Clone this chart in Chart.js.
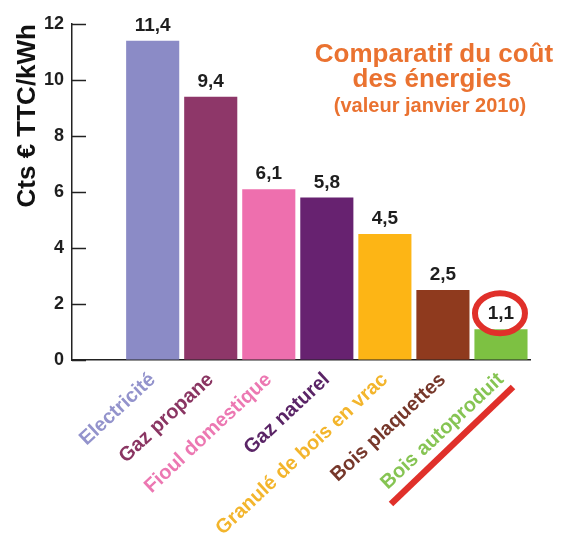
<!DOCTYPE html>
<html>
<head>
<meta charset="utf-8">
<script src="https://cdn.jsdelivr.net/npm/chart.js@4.4.1/dist/chart.umd.min.js"></script>
<style>
  html, body { margin: 0; padding: 0; background: #ffffff; }
  canvas { display: block; }
</style>
</head>
<body>
<canvas id="c" width="573" height="541"></canvas>
<script>
const categories = ['Electricité', 'Gaz propane', 'Fioul domestique', 'Gaz naturel', 'Granulé de bois en vrac', 'Bois plaquettes', 'Bois autoproduit'];
const values = [11.4, 9.4, 6.1, 5.8, 4.5, 2.5, 1.1];
const valueLabels = ['11,4', '9,4', '6,1', '5,8', '4,5', '2,5', '1,1'];
const barColors = ['#8B8BC6', '#8E3769', '#EE6FAE', '#672270', '#FDB515', '#8F3A1E', '#7DC142'];
const labelColors = ['#9393CC', '#8A3562', '#EC78B2', '#5A2466', '#F3B52C', '#76372A', '#86C453'];
const yTickValues = [0, 2, 4, 6, 8, 10, 12];
const titleLines = ['Comparatif du coût', 'des énergies', '(valeur janvier 2010)'];
const yTitle = 'Cts € TTC/kWh';
const highlightIndex = 6;

const FONT = "'Liberation Sans', Arial, Helvetica, sans-serif";

const extras = {
  id: 'extras',
  afterDatasetsDraw(chart) {
    const ctx = chart.ctx;
    const y = chart.scales.y;
    const x = chart.scales.x;
    const meta = chart.getDatasetMeta(0);
    ctx.save();
    // inward tick marks on y axis
    ctx.strokeStyle = '#222';
    ctx.lineWidth = 1.5;
    yTickValues.forEach(v => {
      const py = Math.round(y.getPixelForValue(v)) + 0.5;
      ctx.beginPath();
      ctx.moveTo(chart.chartArea.left, py);
      ctx.lineTo(chart.chartArea.left + 14, py);
      ctx.stroke();
    });
    // value labels
    ctx.fillStyle = '#1e1e1e';
    ctx.font = 'bold 19px ' + FONT;
    ctx.textAlign = 'center';
    ctx.textBaseline = 'alphabetic';
    meta.data.forEach((bar, i) => {
      ctx.fillText(valueLabels[i], bar.x, bar.y - 10);
    });
    // red circle around highlighted label
    const hb = meta.data[highlightIndex];
    ctx.strokeStyle = '#E0302A';
    ctx.lineWidth = 6;
    ctx.beginPath();
    ctx.ellipse(hb.x - 1, hb.y - 16, 25, 20, 0, 0, Math.PI * 2);
    ctx.stroke();
    // red underline of highlighted category label
    const tx = x.getPixelForValue(highlightIndex);
    const base = chart.chartArea.bottom;
    ctx.lineWidth = 6.5;
    ctx.beginPath();
    ctx.moveTo(tx - 110, base + 144);
    ctx.lineTo(tx + 12, base + 27);
    ctx.stroke();
    // title block
    ctx.fillStyle = '#EA7230';
    ctx.textAlign = 'center';
    ctx.font = 'bold 26px ' + FONT;
    ctx.fillText(titleLines[0], 434, 62);
    ctx.fillText(titleLines[1], 432, 87);
    ctx.font = 'bold 20px ' + FONT;
    ctx.fillText(titleLines[2], 430, 112);
    ctx.restore();
  }
};

new Chart(document.getElementById('c'), {
  type: 'bar',
  data: {
    datasets: [{
      data: values.map((v, i) => ({ x: i, y: v })),
      backgroundColor: barColors,
      borderWidth: 0,
      categoryPercentage: 1,
      barPercentage: 0.915
    }]
  },
  options: {
    responsive: false,
    animation: false,
    events: [],
    layout: { padding: { top: 24, right: 43, bottom: 0, left: 0 } },
    plugins: {
      legend: { display: false },
      tooltip: { enabled: false },
      title: { display: false }
    },
    scales: {
      x: {
        type: 'linear',
        position: 'bottom',
        bounds: 'data',
        offset: false,
        min: -1.39,
        max: 6.5,
        grid: { display: true, offset: false, drawOnChartArea: false, drawTicks: false, color: 'rgba(0,0,0,0)' },
        border: { display: true, color: '#222', width: 1.5 },
        afterBuildTicks(scale) { scale.ticks = categories.map((c, i) => ({ value: i })); },
        afterFit(scale) { scale.height = 181; },
        ticks: {
          autoSkip: false,
          minRotation: 43,
          maxRotation: 43,
          padding: 8,
          font: { family: FONT, size: 20, weight: 'bold' },
          color: (ctx) => {
            const v = ctx.tick ? Math.round(ctx.tick.value) : -1;
            return labelColors[v] || '#000';
          },
          callback: (v) => categories[Math.round(v)]
        }
      },
      y: {
        min: 0,
        max: 12,
        grid: { display: true, drawOnChartArea: false, drawTicks: false, color: 'rgba(0,0,0,0)' },
        border: { display: true, color: '#222', width: 1.5 },
        afterFit(scale) { scale.width = 72; },
        afterBuildTicks(scale) { scale.ticks = yTickValues.map(v => ({ value: v })); },
        ticks: {
          padding: 8,
          color: '#1e1e1e',
          font: { family: FONT, size: 18, weight: 'bold' }
        },
        title: {
          display: true,
          text: yTitle,
          align: 'end',
          color: '#111',
          padding: { top: 12, bottom: 0 },
          font: { family: FONT, size: 26, weight: 'bold' }
        }
      }
    }
  },
  plugins: [extras]
});
</script>
</body>
</html>
